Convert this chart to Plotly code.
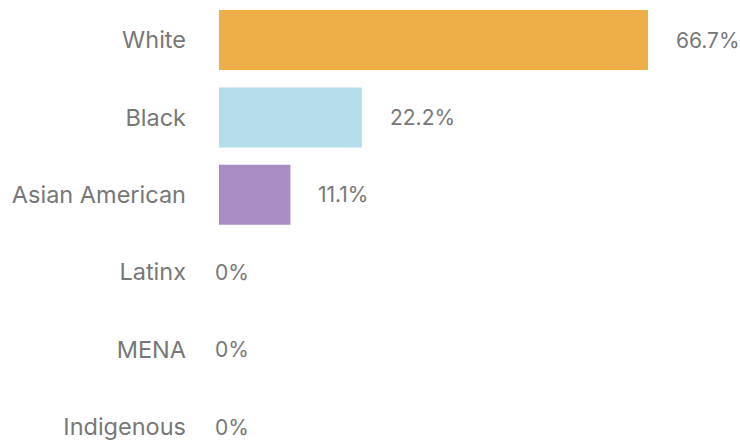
import plotly.graph_objects as go

categories = ["White", "Black", "Asian American", "Latinx", "MENA", "Indigenous"]
values = [66.7, 22.2, 11.1, 0, 0, 0]
value_labels = ["66.7%", "22.2%", "11.1%", "0%", "0%", "0%"]
colors = ["#EEAE48", "#B5DCEA", "#A78DC3", "#CCCCCC", "#CCCCCC", "#CCCCCC"]

FONT = "Inter, Roboto, sans-serif"
GREY = "#777777"

fig = go.Figure()
fig.add_trace(go.Bar(
    x=values,
    y=categories,
    orientation="h",
    marker=dict(color=colors, line=dict(width=0)),
    width=0.775,
    hoverinfo="skip",
))

for cat, v, lab in zip(categories, values, value_labels):
    fig.add_annotation(
        x=v, y=cat, text=lab, showarrow=False,
        xanchor="left", yanchor="middle",
        xshift=26 if v > 0 else -6,
        font=dict(family=FONT, size=21, color=GREY),
    )

fig.update_layout(
    width=740, height=441,
    margin=dict(l=219, r=0, t=0, b=0),
    paper_bgcolor="white", plot_bgcolor="white",
    showlegend=False,
    xaxis=dict(range=[0, 81], visible=False, showgrid=False, zeroline=False),
    yaxis=dict(
        type="category",
        range=[5.18, -0.517],
        showgrid=False, zeroline=False, showline=False,
        ticks="", ticklabelstandoff=32,
        tickfont=dict(family=FONT, size=23.5, color=GREY),
    ),
)

fig.write_html(
    "out.html",
    config={"displayModeBar": False},
    post_script="document.body.style.margin='0';document.body.style.overflow='hidden';",
)
